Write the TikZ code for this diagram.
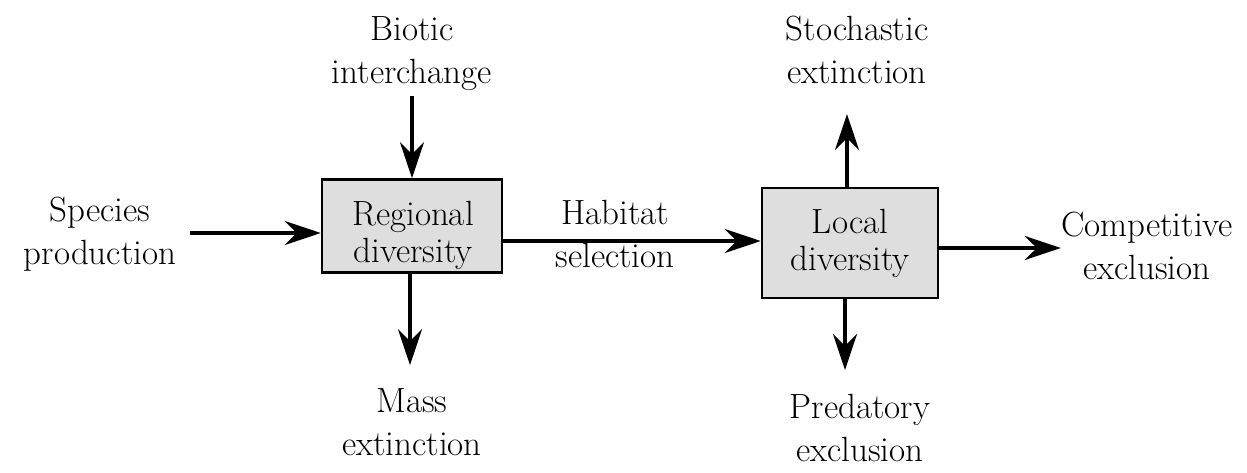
\documentclass[tikz,border=0pt]{standalone}
\usetikzlibrary{arrows.meta,calc}
\begin{document}
\begin{tikzpicture}[x=1pt,y=1pt,
  lbl/.style={align=center,inner sep=0pt,font=\fontsize{35}{43}\selectfont},
  boxlbl/.style={align=center,inner sep=0pt,font=\fontsize{35}{37}\selectfont},
  dbox/.style={draw=black,line width=2.5pt,fill=black!13,inner sep=0pt},
  arr/.style={line width=4pt,-{Stealth[length=36pt,width=24pt,inset=12pt]}}]
\useasboundingbox (0,0) rectangle (1247,472);
% boxes
\node[dbox,minimum width=180pt,minimum height=93pt] (b1) at (412,246) {};
\node[boxlbl] (t1) at (413,237) {Regional\\diversity};
\node[dbox,minimum width=176pt,minimum height=110pt] (b2) at (850,229) {};
\node[boxlbl] (t2) at (850,229) {Local\\diversity};
% labels
\node[lbl] (sp) at (100,238) {Species\\production};
\node[lbl] (bi) at (412,418) {Biotic\\interchange};
\node[lbl] (ma) at (412,50) {Mass\\extinction};
\node[lbl] (ha) at (615,238) {Habitat\\selection};
\node[lbl] (st) at (857,422) {Stochastic\\extinction};
\node[lbl] (pr) at (860,44) {Predatory\\exclusion};
\node[lbl] (co) at (1147,226) {Competitive\\exclusion};
% helper coordinates
\coordinate (spout) at ($(sp.east)+(14,1)$);
\coordinate (stin) at ($(st.south)+(-10,-30)$);
\coordinate (prin) at ($(pr.north)+(-15,24)$);
\coordinate (main) at ($(ma.north)+(-2,23)$);
% connectors
\draw[arr] (spout) -- (spout -| b1.west);
\draw[arr] ([yshift=-5pt]bi.south) -- (b1.north);
\draw[arr] (b1.south -| main) -- (main);
\draw[arr] ([yshift=-15pt]b1.east) -- ([yshift=-15pt]b1.east -| b2.west);
\draw[arr] (b2.north -| stin) -- (stin);
\draw[arr] (b2.south -| prin) -- (prin);
\draw[arr] ([yshift=-5pt]b2.east) -- ([yshift=-5pt]b2.east -| co.west);
\end{tikzpicture}
\end{document}
